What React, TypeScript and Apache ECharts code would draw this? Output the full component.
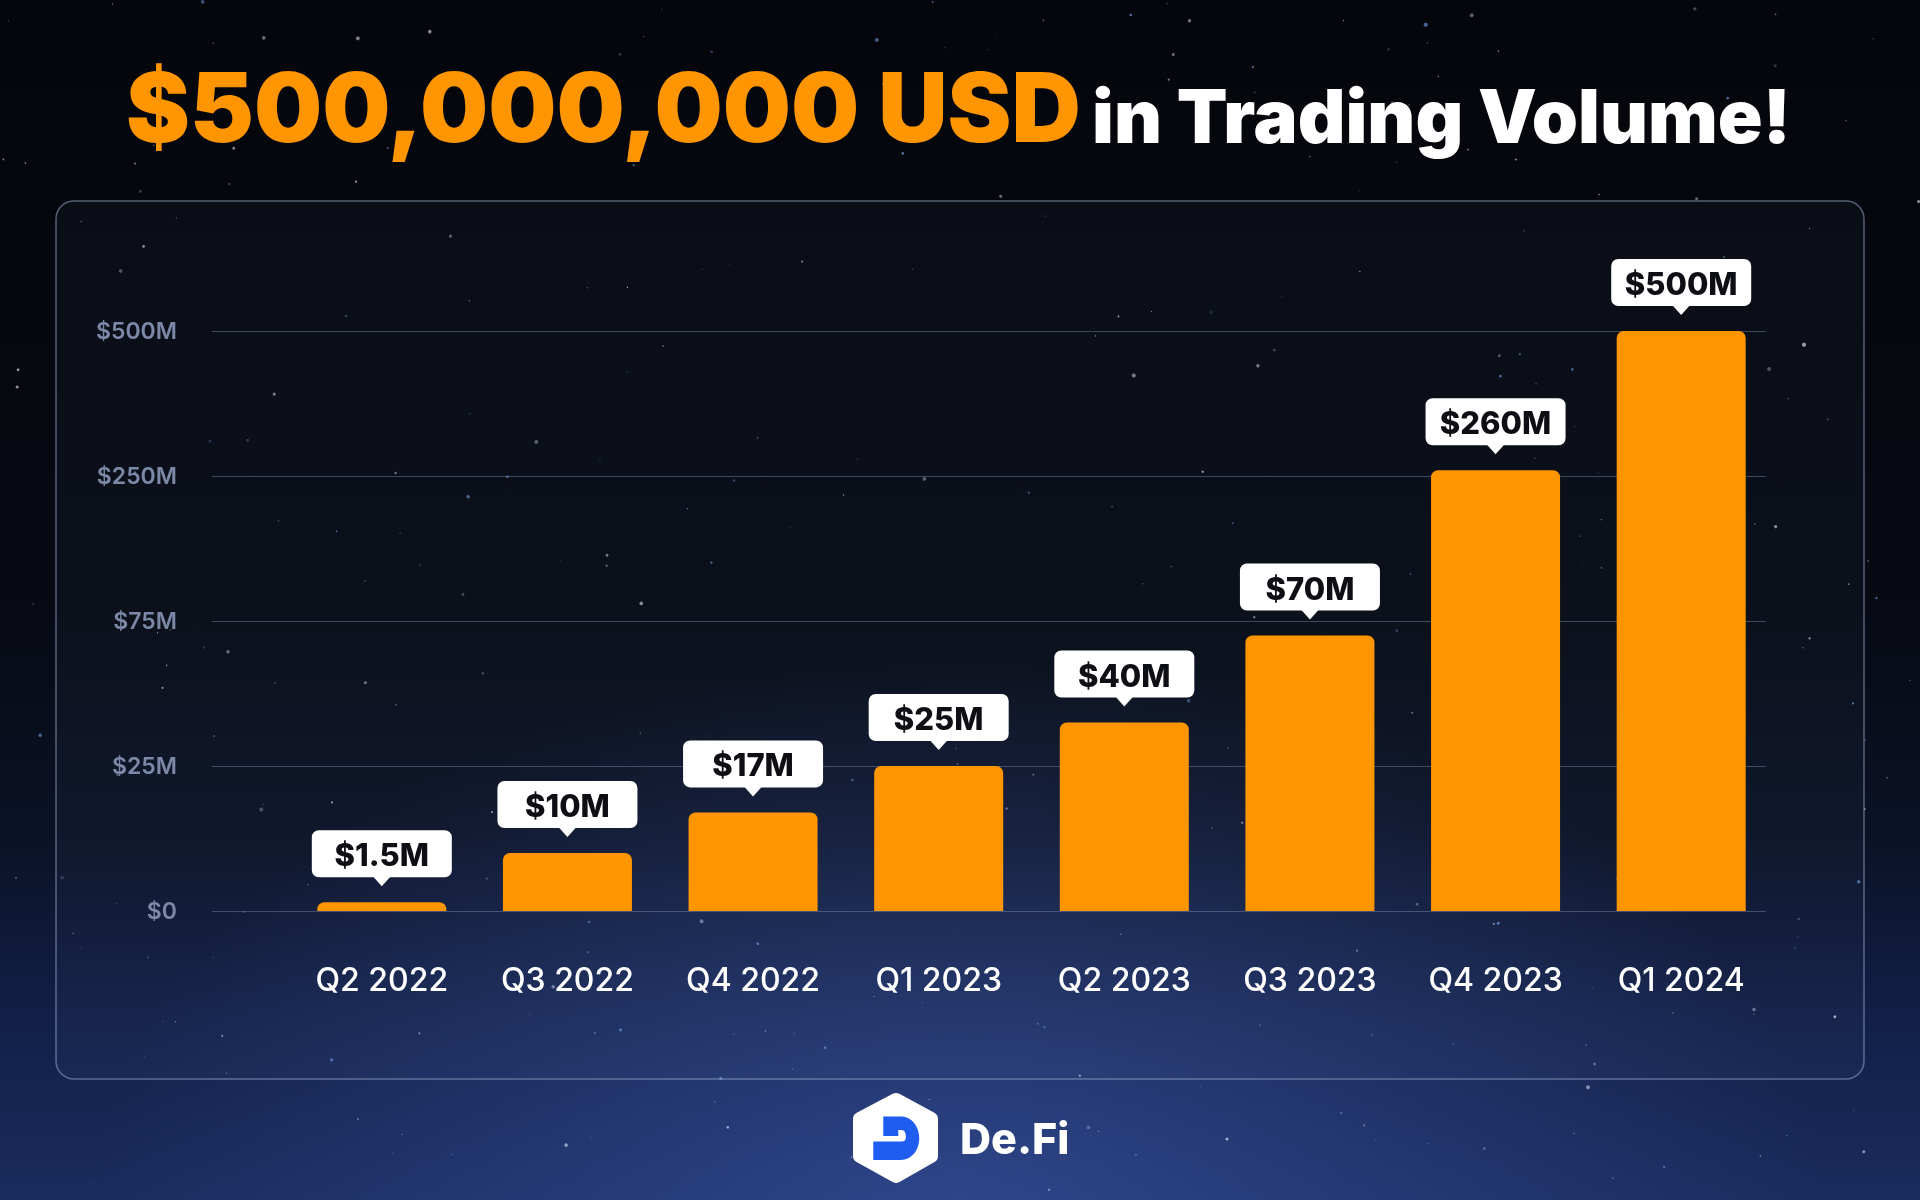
import React, { useEffect, useRef } from "react";
import * as echarts from "echarts";

// ---- data ----
const categories = ["Q2 2022", "Q3 2022", "Q4 2022", "Q1 2023", "Q2 2023", "Q3 2023", "Q4 2023", "Q1 2024"];
const volumesM = [1.5, 10, 17, 25, 40, 70, 260, 500];
const tickValuesM = [0, 25, 75, 250, 500];
const tickLabels = ["$0", "$25M", "$75M", "$250M", "$500M"];
const titleHighlight = "$500,000,000 USD";
const titleRest = "in Trading Volume!";
const brandName = "De.Fi";

// piecewise scale: each tick step occupies one equal axis unit
function toAxis(v: number): number {
  for (let i = 1; i < tickValuesM.length; i++) {
    if (v <= tickValuesM[i]) {
      return i - 1 + (v - tickValuesM[i - 1]) / (tickValuesM[i] - tickValuesM[i - 1]);
    }
  }
  return tickValuesM.length - 1;
}
const valueLabels = volumesM.map((v) => `$${v}M`);

const D_PATH =
  "M190,170 H242 C276,170 298,200 298,235 C298,270 276,300 242,300 H160 V245 H245 Q258,245 258,232 Q258,210 245,210 H235 V228 H190 Z";
echarts.graphic.registerShape("defiD", echarts.graphic.extendPath(D_PATH, {}) as any);

// deterministic decorative star field
function starField(count: number) {
  let s = 12345;
  const rnd = () => {
    s = (s * 1103515245 + 12345) % 2147483648;
    return s / 2147483648;
  };
  const out: any[] = [];
  for (let i = 0; i < count; i++) {
    const x = rnd() * 1920;
    const y = rnd() * 1200;
    const r = 0.5 + rnd() * rnd() * 1.8;
    const o = 0.15 + rnd() * 0.55;
    const blue = rnd() < 0.35;
    out.push({
      type: "circle",
      silent: true,
      z: -90,
      shape: { cx: x, cy: y, r },
      style: { fill: blue ? "#7fb0ff" : "#e6ecff", opacity: o },
    });
  }
  return out;
}

export default function App() {
  const ref = useRef<HTMLDivElement>(null);
  useEffect(() => {
    document.body.style.margin = "0";
    const chart = echarts.init(ref.current!, null, { renderer: "svg" });
    const option: any = {
      animation: false,
      graphic: [
        {
          type: "rect",
          silent: true,
          z: -100,
          shape: { x: 0, y: 0, width: 1920, height: 1200 },
          style: {
            fill: new echarts.graphic.LinearGradient(0, 0, 0, 1, [
              { offset: 0, color: "#04060b" },
              { offset: 0.5, color: "#070a13" },
              { offset: 0.7, color: "#0b1226" },
              { offset: 0.85, color: "#122048" },
              { offset: 1, color: "#1a2c5e" },
            ]),
          },
        },
        {
          type: "rect",
          silent: true,
          z: -95,
          shape: { x: 0, y: 0, width: 1920, height: 1200 },
          style: {
            fill: new echarts.graphic.RadialGradient(0.5, 1.0, 0.45, [
              { offset: 0, color: "rgba(70,100,190,0.45)" },
              { offset: 1, color: "rgba(70,100,190,0)" },
            ]),
          },
        },
        ...starField(420),
        {
          type: "rect",
          silent: true,
          z: -80,
          shape: { x: 56, y: 201, width: 1808, height: 878, r: 18 },
          style: { fill: "rgba(120,140,185,0.05)", stroke: "rgba(150,165,200,0.55)", lineWidth: 1.5 },
        },
        {
          type: "text",
          x: 126,
          y: 107,
          style: {
            text: titleHighlight,
            fill: "#FF9500",
            fontFamily: "Inter",
            fontWeight: 900,
            fontSize: 96,
            verticalAlign: "middle",
            align: "left",
          },
        },
        {
          type: "text",
          x: 1092,
          y: 116,
          style: {
            text: titleRest,
            fill: "#ffffff",
            fontFamily: "Inter",
            fontWeight: 900,
            fontSize: 74,
            verticalAlign: "middle",
            align: "left",
          },
        },
        {
          type: "polygon",
          shape: {
            points: [
              [896, 1100],
              [931, 1119],
              [931, 1156],
              [896, 1176],
              [860, 1156],
              [860, 1119],
            ],
          },
          style: { fill: "#ffffff", stroke: "#ffffff", lineWidth: 14, lineJoin: "round" },
        },
        {
          type: "defiD",
          x: 820,
          y: 1060,
          scaleX: 1 / 3,
          scaleY: 1 / 3,
          style: { fill: "#1f5cf0" },
        },
        {
          type: "text",
          x: 960,
          y: 1138,
          style: {
            text: brandName,
            fill: "#ffffff",
            fontFamily: "Inter",
            fontWeight: 800,
            fontSize: 43,
            verticalAlign: "middle",
            align: "left",
          },
        },
      ],
      grid: [
        { left: 212, right: 154, top: 331, bottom: 289 },
        { left: 289, right: 146, top: 331, bottom: 289 },
      ],
      xAxis: [
        { gridIndex: 0, type: "category", data: categories, show: false },
        {
          gridIndex: 1,
          type: "category",
          data: categories,
          axisLine: { show: false },
          axisTick: { show: false },
          axisLabel: {
            color: "#ffffff",
            fontFamily: "Inter",
            fontWeight: 500,
            fontSize: 32,
            margin: 52,
          },
        },
      ],
      yAxis: [
        {
          gridIndex: 0,
          type: "value",
          min: 0,
          max: tickValuesM.length - 1,
          interval: 1,
          axisLine: { show: false },
          axisTick: { show: false },
          axisLabel: {
            formatter: (v: number) => tickLabels[Math.round(v)] ?? "",
            color: "#7b88a8",
            fontFamily: "Inter",
            fontWeight: 600,
            fontSize: 23,
            margin: 35,
          },
          splitLine: { lineStyle: { color: "rgba(125,140,175,0.45)", width: 1.2 } },
        },
        {
          gridIndex: 1,
          type: "value",
          min: 0,
          max: tickValuesM.length - 1,
          show: false,
          splitLine: { show: false },
        },
      ],
      series: [
        {
          type: "bar",
          xAxisIndex: 1,
          yAxisIndex: 1,
          barWidth: 129,
          data: volumesM.map((v) => toAxis(v)),
          itemStyle: { color: "#FF9500", borderRadius: [7, 7, 0, 0] },
          z: 3,
        },
        {
          type: "custom",
          xAxisIndex: 1,
          yAxisIndex: 1,
          z: 5,
          data: volumesM.map((v, i) => [i, toAxis(v)]),
          renderItem: (params: any, api: any) => {
            const p = api.coord([api.value(0), api.value(1)]);
            const cx = p[0];
            const top = p[1];
            const boxW = 140;
            const boxH = 47;
            const gap = 25;
            const boxBottom = top - gap;
            const boxTop = boxBottom - boxH;
            return {
              type: "group",
              children: [
                {
                  type: "rect",
                  shape: { x: cx - boxW / 2, y: boxTop, width: boxW, height: boxH, r: 7 },
                  style: { fill: "#ffffff" },
                },
                {
                  type: "polygon",
                  shape: {
                    points: [
                      [cx - 9, boxBottom - 1],
                      [cx + 9, boxBottom - 1],
                      [cx, boxBottom + 9],
                    ],
                  },
                  style: { fill: "#ffffff" },
                },
                {
                  type: "text",
                  x: cx,
                  y: boxTop + boxH / 2 + 1,
                  style: {
                    text: valueLabels[params.dataIndex],
                    fill: "#0d0f15",
                    fontFamily: "Inter",
                    fontWeight: 800,
                    fontSize: 31,
                    align: "center",
                    verticalAlign: "middle",
                  },
                },
              ],
            };
          },
        },
      ],
    };
    chart.setOption(option);
    return () => chart.dispose();
  }, []);
  return <div ref={ref} style={{ position: "fixed", left: 0, top: 0, width: 1920, height: 1200 }} />;
}
